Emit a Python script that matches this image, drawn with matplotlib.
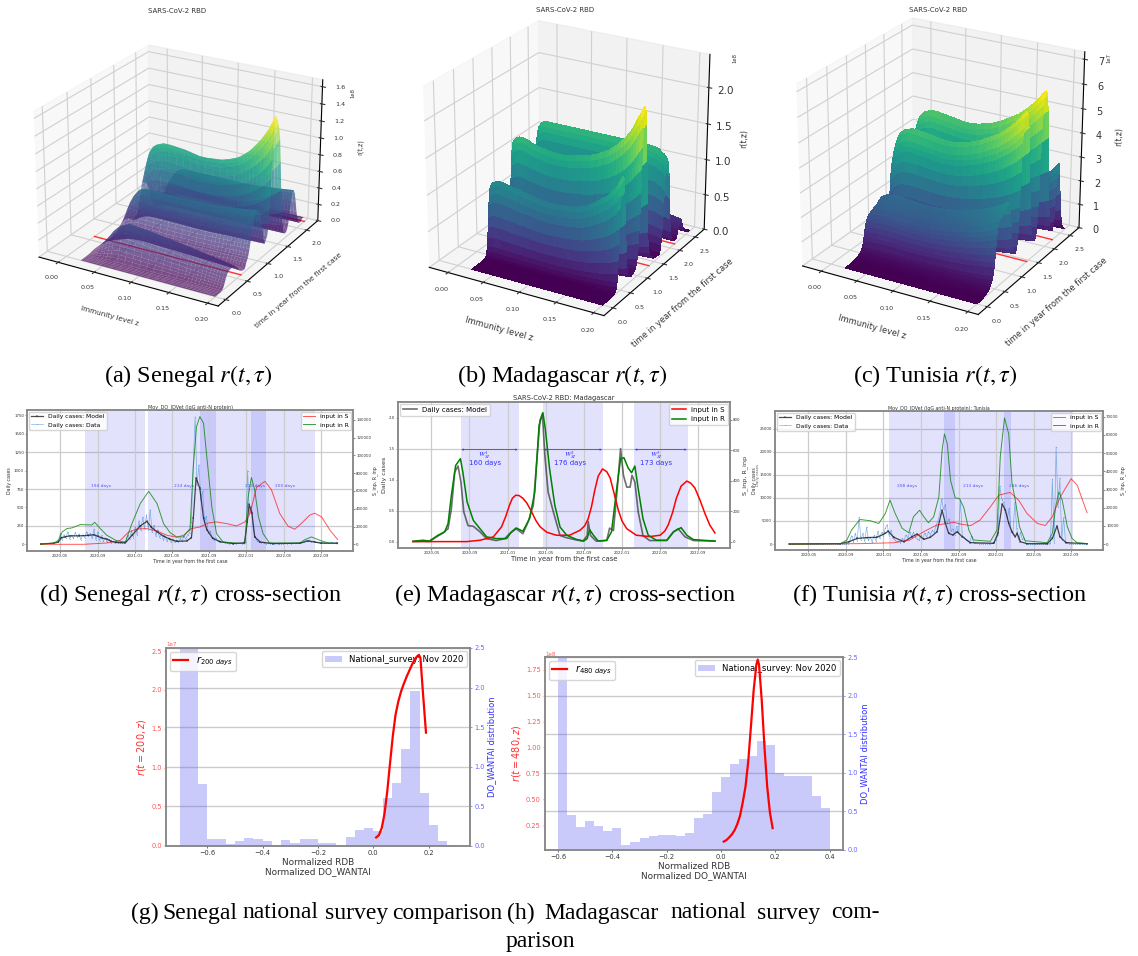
import numpy as np
import matplotlib
matplotlib.use("Agg")
import matplotlib.pyplot as plt

W, H = 1138, 956
plt.rcParams['mathtext.fontset'] = 'stix'

# ---------- 3D surfaces: immunity grid, z-profiles and per-time ridge heights ----------
z_grid = [.02,.022,.024,.026,.028,.03,.035,.04,.045,.05,.06,.07,.08,.09,.10,.11,.12,.13,.14,.15,.155,.16,.165,.17,.175,.18,.184,.188,.192,.196,.2]
a_fall = [.05,.08,.12,.17,.22,.28,.42,.58,.75,.88,1,.98,.95,.92,.88,.85,.82,.78,.74,.7,.68,.66,.64,.62,.6,.58,.56,.54,.52,.5,.48]
a_flat = [.2,.28,.37,.47,.57,.66,.82,.93,.98,1,1,1,1,1,1,1,1,1,1.01,1.02,1.03,1.04,1.05,1.06,1.07,1.08,1.09,1.1,1.11,1.12,1.13]
a_main = [.45,.55,.65,.74,.82,.88,.96,1,1.02,1.04,1.04,1.03,1.02,1,.98,.98,.99,1,1.03,1.07,1.1,1.14,1.18,1.23,1.29,1.35,1.41,1.47,1.54,1.63,1.72]
b_main = [.92,.95,.97,.98,.99,1,1,.99,.98,.97,.95,.93,.91,.89,.88,.88,.89,.9,.92,.95,.98,1.01,1.04,1.08,1.12,1.16,1.2,1.25,1.3,1.37,1.45]
b_boost = [1.2,1.24,1.26,1.28,1.29,1.3,1.3,1.29,1.27,1.25,1.23,1.21,1.2,1.2,1.21,1.23,1.25,1.28,1.32,1.37,1.4,1.44,1.48,1.53,1.58,1.64,1.7,1.77,1.85,1.93,2.0]
b_flat = [1.06,1.09,1.12,1.13,1.14,1.15,1.15,1.15,1.15,1.15,1.15,1.15,1.15,1.15,1.15,1.15,1.15,1.15,1.15,1.15,1.15,1.15,1.15,1.15,1.15,1.14,1.14,1.13,1.1,1.08,1.03]
c_main = [.75,.82,.87,.91,.94,.96,.99,1,1.01,1.01,1,.99,.98,.97,.97,.98,1,1.02,1.05,1.09,1.11,1.13,1.15,1.18,1.21,1.24,1.27,1.3,1.33,1.37,1.4]

a_h = [0,0,.001,.002,.003,.01,.04,.12,.22,.3,.34,.36,.36,.36,.35,.34,.31,.26,.2,.14,.1,.08,.07,.07,.08,.11,.16,.24,.33,.42,.49,.53,.54,.53,.5,.46,.38,.28,.18,.12,.1,.12,.2,.38,.62,.82,.9,.88,.84,.8,.72,.56,.36,.2,.11,.07,.05,.05,.07,.13,.25,.37,.43,.44,.4,.3,.18,.09,.05,.03,.03,.05,.06,.04]
a_tx = [.195,.225,.255,.765,.795,.825,.855,1.275,1.305,1.335,1.365,1.785,1.815,1.845]
a_hx = [.08,.17,.26,.13,.2,.28,.37,.28,.5,.72,.87,.19,.31,.4]
a_breaks = [(.7,a_fall),(1.2,a_flat),(1.65,a_main),(9,a_flat)]
b_h = [0,0,.001,.001,.002,.002,.003,.003,.004,.005,.006,.01,.02,.06,.18,.45,.78,1.0,1.05,1.02,.9,.6,.32,.16,.09,.06,.05,.04,.04,.04,.05,.06,.08,.12,.22,.42,.72,1.0,1.12,1.1,1.0,.75,.45,.25,.14,.09,.06,.05,.04,.03,.03,.025,.02,.02,.025,.03,.06,.15,.35,.7,1.05,1.2,1.25,1.2,1.02,.7,.4,.22,.12,.08,.06,.05,.05,.06,.1,.16,.23,.27,.27,.22,.15,.1,.07,.05,.04,.03,.02,.015,.01]
b_tx = [.405,.435,.465,.495,1.035,1.065,1.095,1.125,1.725,1.755,1.785,1.815,2.265]
b_hx = [.11,.3,.6,.9,.31,.56,.86,1.07,.24,.52,.87,1.14,.2]
b_breaks = [(.82,b_main),(1.63,b_boost),(9,b_flat)]
c_h = [0,0,0,.005,.01,.015,.02,.03,.04,.06,.08,.12,.16,.22,.3,.42,.65,1.0,1.4,1.7,1.85,1.9,1.92,1.95,2.0,2.02,2.05,2.1,2.15,2.2,2.1,1.85,1.45,1.05,.75,.6,.55,.55,.7,1.1,1.8,2.8,3.6,4.0,4.3,4.4,4.4,4.3,3.9,3.2,2.3,1.5,1.0,.7,.5,.45,.45,.5,.8,1.4,2.3,3.2,4.0,4.45,4.6,4.6,4.45,4.0,3.2,2.2,1.3,.8,.5,.35,.3,.3,.5,.95,1.5,1.95,2.1,1.8,1.2,.7,.4,.2,.1,.05,.02]
c_tx = [.495,.525,.555,1.185,1.215,1.245,1.275,1.755,1.785,1.815,1.845,1.875,2.325,2.355]
c_hx = [.8,1.2,1.55,1.4,2.3,3.2,3.8,1.1,1.85,2.75,3.6,4.25,1.2,1.75]
c_breaks = [(2.27,c_main),(9,b_main)]
t_step = .03

# ---------- time series, x in months since 2020-01 ----------
month_ticks = [4,8,12,16,20,24,28,32]
month_labels = ['2020-05','2020-09','2021-01','2021-05','2021-09','2022-01','2022-05','2022-09']

d_model_t = [1.9,3.3,3.8,4.1,4.5,5,6,7,7.6,8,8.5,9,9.5,10,11,11.7,12.6,13.3,13.8,14.4,15.1,15.8,16.5,17.6,18.1,18.3,18.6,19,19.4,19.75,20.4,21.2,22.6,23.8,24.1,24.3,24.6,24.9,25.5,26.9,29.8,30.6,31.4,32,33.8]
d_model_v = [5,15,30,90,100,115,115,120,130,110,85,70,40,25,20,120,250,310,230,170,110,70,40,45,90,350,900,760,350,200,80,35,10,20,300,540,430,100,30,10,15,45,30,15,15]
d_data_v = [40,150,60,130,90,170,70,120,80,160,100,140,60,130,90,170,110,150,80,210,
            60,170,50,120,40,90,30,70,20,40,15,30,15,20,15,
            30,40,120,70,180,90,240,130,320,190,370,210,400,200,470,160,260,110,200,90,
            140,60,110,40,90,30,70,25,60,30,80,40,110,70,130,150,
            300,1100,1730,800,1080,600,720,300,380,150,180,90,
            60,90,40,50,25,30,15,20,10,12,8,12,10,15,12,10,20,30,
            1000,420,520,200,110,50,30,
            20,25,15,10,12,8,10,8,12,8,10,8,10,12,10,12,10,15,12,18,15,20,25,
            35,55,40,60,35,45,30,25,30,20,25,18,20,22,18,25,15,20,15]
d_R_t = [1.9,3.3,3.8,4.2,4.7,5.25,6.15,7.4,7.7,8.3,9,10.1,11,11.7,12.6,13.5,14.4,15.1,15.8,16.5,17.2,17.95,18.3,18.65,19,19.4,19.75,20.3,20.8,21.5,23.85,24.2,24.55,24.9,25.3,25.8,26.5,29.75,30.3,31,31.9,32.8,33.8]
d_R_v = [0,1500,4500,13900,17700,18500,22200,21800,24800,17700,10200,3800,2600,23300,45900,59600,45900,23300,13200,8300,8300,17700,87300,132500,143800,136300,98700,41300,12000,2600,700,53300,75200,61400,31200,12000,1500,1500,5300,8300,4500,1500,700]
d_S_t = [1.9,6.5,9,10.45,11.35,12.25,13.3,14.4,15.45,16.5,17.25,18.1,19,19.9,20.8,21.9,22.95,23.85,24.4,25.1,26,26.7,27.6,28.5,29.2,29.9,30.8,31.35,32.1,33,33.8]
d_S_v = [0,0,1500,4500,13900,17300,17700,15000,10200,8000,10200,17700,19500,24000,25200,23300,20700,25200,34600,64000,70900,61400,34600,20300,17000,23300,32700,35000,30800,15800,5600]
d_spans = [(6.61,13.01),(13.48,20.63),(19.02,26.0),(24.5,31.25)]
d_span_labels = [(8.4,'194 days'),(17.3,'214 days'),(24.9,'210 days'),(28.2,'200 days')]

e_model_t = [2.07,3.1,3.8,4.5,5.2,5.75,6.1,6.45,6.8,7.1,7.4,7.85,8.4,9.1,9.8,10.8,11.7,12.2,12.9,13.6,14.15,14.7,15.05,15.4,15.65,15.9,16.25,16.8,17.5,18.2,19.2,19.9,20.35,20.45,20.7,21.3,22.4,22.7,23.1,23.5,23.85,24.15,24.5,24.85,25.05,25.35,25.7,26.2,26.9,28.7,29.4,29.9,30.6,31.5,33.75]
e_model_v = [.005,.01,.005,.075,.14,.21,.53,1.12,1.22,.96,.48,.26,.25,.16,.05,.02,.05,.13,.21,.13,.32,.59,1.29,1.96,2.06,1.4,.8,.48,.1,.065,.03,.01,.1,.33,.1,.01,.02,.22,.18,.85,1.5,1.07,.88,.88,1.07,.96,.48,.1,.02,.02,.16,.21,.08,.02,.01]
e_R_t = [2.07,3.1,3.8,4.7,5.4,5.75,6.1,6.55,7.05,7.3,7.75,8.4,9.1,9.8,10.8,11.9,12.4,12.9,13.6,14.3,14.85,15.3,15.7,15.95,16.4,16.95,17.5,18.2,19.2,20,20.35,20.6,21,21.5,22.4,22.9,23.4,23.85,24.2,24.65,25,25.35,25.7,26.2,26.75,27.6,28.7,29.4,30.2,30.8,31.5,33.75]
e_R_v = [2,9,4,42,64,118,304,501,545,458,261,140,85,31,20,20,64,90,68,151,326,764,848,742,480,239,96,42,15,4,20,79,42,4,9,64,326,545,552,484,453,497,348,151,42,9,9,64,92,42,13,4]
e_S_t = [2.07,7.7,9.1,10.5,11.35,11.8,12.2,12.5,12.85,13.2,13.6,14,14.4,14.7,15,15.4,16.1,17.1,18.5,19.6,20.1,20.45,20.8,21.15,21.5,21.95,22.4,22.75,23.2,23.6,24,24.5,25.5,26.9,28,28.5,28.85,29.3,29.7,30.2,30.8,31.2,31.65,32.2,32.7,33.2,33.75]
e_S_v = [0,0,9,31,96,165,240,285,305,303,285,255,210,172,135,98,62,42,42,75,105,150,230,340,430,478,460,420,310,210,135,85,42,33,42,70,110,190,285,365,398,385,352,270,185,110,57]
e_spans = [(7.08,13.17),(15.73,22.0),(25.25,30.96)]
e_arrows = [(7.15,13.05),(15.83,21.9),(25.35,30.8)]
e_arrow_y = 1.484
e_labels = [(9.6,'$W_{SI}^{1}$','160 days'),(18.6,'$W_{SI}^{2}$','176 days'),(27.6,'$W_{SI}^{3}$','173 days')]

f_model_t = [1.97,7.4,8.3,9.2,10.25,11.3,12.2,12.5,13.1,14.2,15.05,15.6,16.3,17,17.7,18.25,18.6,18.95,19.4,19.85,20.4,21.25,23.75,24.2,24.65,25,25.35,25.7,26.05,26.25,26.6,27.3,29.45,30,30.5,30.8,31.45,33.7]
f_model_v = [0,70,500,1200,1400,1450,2300,2800,1450,500,1600,2150,1000,1450,2650,7300,4500,2300,1950,2650,1600,300,150,2300,8650,7350,4450,2650,1600,2300,500,70,70,1200,3900,1600,300,70]
f_data_v = [0]*31 + [100,600,1800,400,2300,700,5800,900,2300,500,3700,800,1500,400,1900,600,2800,1200,2500,1800,3500,
            4200,1800,3000,1300,900,500,700,300,1200,800,2000,1300,2600,1600,2500,
            1500,1100,800,1900,1200,2400,1500,2700,2000,3000,2500,4000,5000,6500,9800,
            7500,8600,4500,5500,2800,3300,2000,3800,2200,9500,1800,1500,
            900,600,400,1800,300,200,150,100,100,80,100,60,80,100,200,400,800,
            2000,12500,9800,9000,7000,5500,7800,3000,2000,9000,3500,800,2500,1000,1200,
            100,50,30,20,20,10,10,10,20,10,20,30,50,
            200,14000,300,21000,8000,14300,900,5800,600,300,100,
            50,30,20,10,10,10,10,10,10]
f_R_t = [1.97,7.4,8.1,8.6,9.5,10.6,11.5,12.2,12.7,13.25,14,14.7,15.2,15.85,16.3,16.8,17.35,17.9,18.25,18.5,18.8,19.15,19.65,20.1,20.55,21.1,21.6,23.4,24.1,24.45,24.9,25.35,25.7,26.05,26.5,27.1,29.45,30,30.35,30.7,31.05,31.6,32.1,32.65,33.7]
f_R_v = [0,200,2200,7700,13500,12800,11300,16800,24200,16800,8600,6200,15000,18600,15000,11700,15000,25800,51400,60600,55100,35000,25400,25000,20300,7700,2200,1500,7700,47900,69400,60600,33500,24200,9500,1800,700,5900,20500,28700,24200,9500,3100,700,200]
f_S_t = [1.97,9.5,13.1,14.8,16.3,17.7,18.8,19.5,20.2,21.3,22.3,23.4,24.3,25.5,26.4,27.3,28.4,29.25,30,30.85,32,32.65,33.7]
f_S_v = [0,200,700,2200,6800,10500,11300,11900,11000,10100,13200,20500,26900,28400,24200,16800,11300,10200,15000,26000,35900,32400,17200]
f_spans = [(12.54,19.48),(18.5,25.5),(24.9,32.1)]
f_span_labels = [(14.5,'208 days'),(21.55,'213 days'),(26.5,'216 days')]

# ---------- survey histograms ----------
g_bins = [-0.7 + i/30 for i in range(31)]
g_hist = [5,5,.78,.09,.09,.03,.06,.105,.085,.065,.01,.07,.035,.09,.09,.035,.035,0,.11,.2,.23,.19,.6,.8,1.22,1.96,.67,.27,.06,.01]
g_r_z = [.01,.02,.03,.04,.05,.06,.07,.08,.09,.10,.11,.12,.13,.14,.15,.16,.165,.17,.18,.19]
g_r_v = [.1,.13,.22,.4,.69,1.05,1.4,1.68,1.85,1.98,2.08,2.17,2.25,2.33,2.4,2.44,2.45,2.41,1.92,1.45]
h_bins = [-0.6 + i/30 for i in range(31)]
h_hist = [5,.45,.30,.38,.31,.25,.28,.07,.10,.15,.18,.2,.2,.18,.22,.41,.47,.745,.94,1.11,1.185,1.215,1.41,1.36,1.0,.955,.955,.955,.70,.54]
h_r_z = [.01,.02,.03,.04,.05,.06,.07,.08,.09,.10,.11,.12,.13,.135,.14,.15,.16,.17,.18,.19]
h_r_v = [.09,.105,.13,.16,.2,.26,.34,.47,.62,.86,1.2,1.55,1.8,1.85,1.8,1.45,1.0,.62,.37,.22]

fig = plt.figure(figsize=(W/100, H/100), dpi=100, facecolor='white')

def rect(x0, y0, x1, y1):
    return [x0/W, 1-y1/H, (x1-x0)/W, (y1-y0)/H]

def surface(box, hs, tx, hx, breaks, scale, zlim, zticks, ylim, yticks, title, aspect, alpha, red_t, tick_fs, z_fs, lab_fs, offset):
    ax = fig.add_axes(rect(*box), projection='3d')
    ts = np.concatenate([t_step*np.arange(len(hs)), tx])
    vals = np.concatenate([hs, hx])
    order = np.argsort(ts)
    ts, vals = ts[order], vals[order]
    rows = []
    for t, h in zip(ts, vals):
        prof = next(p for limit, p in breaks if t < limit)
        rows.append(np.array(prof)*h*scale)
    R = np.array(rows)
    Z, T = np.meshgrid(z_grid, ts)
    ax.plot_surface(Z, T, R, cmap='viridis', linewidth=0, edgecolor='none', antialiased=alpha < 1, rcount=300, ccount=300, alpha=alpha)
    for t in red_t:
        ax.plot([0, .2], [t, t], [0, 0], color='red', lw=1, alpha=.8)
    ax.view_init(elev=24, azim=-60)
    ax.set_xlim(-.027, .2135)
    ax.set_ylim(*ylim)
    ax.set_zlim(0, zlim)
    ax.set_xticks([0,.05,.1,.15,.2])
    ax.set_xticklabels(['0.00','0.05','0.10','0.15','0.20'])
    ax.set_yticks(yticks)
    ax.set_zticks(zticks)
    ax.tick_params(axis='x', labelsize=tick_fs, pad=-1, colors='#333333')
    ax.tick_params(axis='y', labelsize=tick_fs, pad=-1, colors='#333333')
    ax.tick_params(axis='z', labelsize=z_fs, pad=0, colors='#333333')
    ax.set_xlabel('Immunity level z', fontsize=lab_fs, labelpad=-3, color='#333333')
    ax.set_ylabel('time in year from the first case', fontsize=lab_fs, labelpad=-2, color='#333333')
    ax.set_zlabel('r(t,z)', fontsize=lab_fs-.5, labelpad=-3, color='#333333')
    ax.zaxis.get_offset_text().set_visible(False)
    ax.set_box_aspect(aspect)
    for axis in (ax.xaxis, ax.yaxis, ax.zaxis):
        axis._axinfo['grid']['color'] = '#d0d0d0'
        axis._axinfo['grid']['linewidth'] = .8
    fig.text(title[0]/W, 1-title[1]/H, 'SARS-CoV-2 RBD', fontsize=5, color='#333333', ha='center', va='center')
    fig.text(offset[0]/W, 1-offset[1]/H, offset[2], fontsize=3.8, color='#333333', rotation=90, ha='center', va='center')
    return ax

surface((14.5,10,339.5,335), a_h, a_tx, a_hx, a_breaks, 1e8, 1.68e8, [0,.2e8,.4e8,.6e8,.8e8,1e8,1.2e8,1.4e8,1.6e8], (-.17,2.3), [0,.5,1,1.5,2],
        (177,11), (3.9,4.1,3), .7, [.6,2.2], 4.6, 4.6, 5.2, (353,93,'1e8'))
surface((394,-5.5,736,336.5), b_h, b_tx, b_hx, b_breaks, 1e8, 2.45e8, [0,.5e8,1e8,1.5e8,2e8], (-.25,2.8), [0,.5,1,1.5,2,2.5],
        (565,10), (3.85,4.15,3.75), 1, [1.35,2.15], 4.6, 7.5, 6, (735,58,'1e8'))
surface((767,-8.5,1111,335.5), c_h, c_tx, c_hx, c_breaks, 1e7, 7.3e7, [0,1e7,2e7,3e7,4e7,5e7,6e7,7e7], (-.25,2.8), [0,.5,1,1.5,2,2.5],
        (938,10), (3.85,4.15,3.75), 1, [1.45,2.25], 4.6, 7, 6, (1109,58,'1e7'))

def series_axes(box, xlim, ylim_l, ylim_r, yt_l, yt_r, grid_y, title, t_fs, lab_fs, ylab_r, ylab_fs):
    ax = fig.add_axes(rect(*box))
    ax2 = ax.twinx()
    ax.set_xlim(*xlim); ax.set_ylim(*ylim_l); ax2.set_ylim(*ylim_r)
    ax.set_xticks(month_ticks); ax.set_xticklabels(month_labels)
    ax.set_yticks(yt_l); ax2.set_yticks(yt_r)
    ax.grid(axis='x', color='#cccccc', lw=.9)
    for g in grid_y:
        ax.axhline(g, color='#cccccc', lw=.9, zorder=0)
    for a in (ax, ax2):
        a.tick_params(labelsize=2.8, length=1.2, width=.4, pad=1, colors='#333333')
        for s in a.spines.values():
            s.set_color('#888888'); s.set_linewidth(1.1)
    ax.set_title(title, fontsize=t_fs, pad=1.5, color='#333333')
    ax.set_xlabel('Time in year from the first case', fontsize=lab_fs, labelpad=1, color='#333333')
    ax.set_ylabel('Daily cases', fontsize=ylab_fs, labelpad=1.5, color='#333333')
    ax2.set_ylabel(ylab_r, fontsize=ylab_fs, labelpad=1, color='#333333')
    return ax, ax2

SPAN = dict(facecolor='#4040f0', alpha=.15, edgecolor='#4040f0', lw=.4)
DATA = dict(color='#3f8fd8', lw=.5, marker='.', ms=1.5, alpha=.65, mew=0)
MODEL = dict(color='#111111', lw=.9, marker='+', ms=1.2, mew=.3, alpha=.75)

# panel d
ax, ax2 = series_axes((27,410,353,551), (.42,35.47), (-91,1822), (-7520,151150),
                      [0,250,500,750,1000,1250,1500,1750], [0,20000,40000,60000,80000,100000,120000,140000],
                      [250,750,1250], 'Moy_DO_IDVet (IgG anti-N protein)', 3.5, 3.4, 'S_inp, R_inp', 3.4)
for s in d_spans: ax.axvspan(*s, **SPAN)
for x, lab in d_span_labels: ax.text(x, 789, lab, fontsize=3.2, color='#3030ff', ha='center', va='center', alpha=.8)
ax.plot(np.linspace(3.8, 33.8, len(d_data_v)), d_data_v, zorder=3, **DATA)
ax.plot(d_model_t, d_model_v, zorder=4, **MODEL)
ax2.plot(d_S_t, d_S_v, color='red', lw=.7, alpha=.65, label='input in S')
ax2.plot(d_R_t, d_R_v, color='green', lw=.7, alpha=.75, label='input in R')
h1 = [plt.Line2D([], [], **MODEL), plt.Line2D([], [], **DATA)]
ax.legend(h1, ['Daily cases: Model','Daily cases: Data'], loc='upper left', fontsize=4.3, borderaxespad=.3)
ax2.legend(loc='upper right', fontsize=4.3, borderaxespad=.3)

# panel e
ax, ax2 = series_axes((398,402,730,548), (.5,35.33), (-.10,2.25), (-42,918),
                      [0,.5,1,1.5,2], [0,200,400,600,800], [.5,1.5],
                      'SARS-CoV-2 RBD: Madagascar', 4.9, 4.9, 'S_inp, R_inp', 4.6)
for s in e_spans: ax.axvspan(*s, facecolor='#4040f0', alpha=.15, lw=0)
ax.plot(e_model_t, e_model_v, color='#222222', lw=1.2, alpha=.65)
ax2.plot(e_S_t, e_S_v, color='red', lw=1.1, label='input in S')
ax2.plot(e_R_t, e_R_v, color='green', lw=1.1, label='input in R')
for a0, a1 in e_arrows:
    ax.annotate('', xy=(a1, e_arrow_y), xytext=(a0, e_arrow_y), arrowprops=dict(arrowstyle='<->', color='#3030ff', lw=.5, mutation_scale=2.5, shrinkA=0, shrinkB=0))
for x, wl, dl in e_labels:
    ax.text(x, 1.40, wl, fontsize=5.4, color='#3030ff', ha='center', va='center')
    ax.text(x, 1.27, dl, fontsize=5, color='#3030ff', ha='center', va='center')
ax.legend([plt.Line2D([], [], color='#222222', lw=1.2, alpha=.65)], ['Daily cases: Model'], loc='upper left', fontsize=5, borderaxespad=.3)
ax2.legend(loc='upper right', fontsize=5, borderaxespad=.3)
fig.text(757.5/W, 1-475/H, 'Daily cases', fontsize=2.8, rotation=90, color='#555555', ha='center', va='center')

# panel f
ax, ax2 = series_axes((775,411,1103,550), (.44,35.4), (-1296,28800), (-3294,73200),
                      [0,5000,10000,15000,20000,25000], [0,10000,20000,30000,40000,50000,60000,70000],
                      [5000,10000,15000,20000,25000], 'Moy_DO_IDVet (IgG anti-N protein): Tunisia', 3.45, 3.4, 'S_inp, R_inp', 3.4)
for s in f_spans: ax.axvspan(*s, **SPAN)
for x, lab in f_span_labels: ax.text(x, 12500, lab, fontsize=3.2, color='#3030ff', ha='center', va='center', alpha=.8)
ax.plot(2 + .2*np.arange(len(f_data_v)), f_data_v, zorder=3, **DATA)
ax.plot(f_model_t, f_model_v, zorder=4, **MODEL)
ax2.plot(f_S_t, f_S_v, color='red', lw=.7, alpha=.65, label='input in S')
ax2.plot(f_R_t, f_R_v, color='green', lw=.7, alpha=.75, label='input in R')
ax.legend([plt.Line2D([], [], **MODEL), plt.Line2D([], [], **DATA)], ['Daily cases: Model','Daily cases: Data'], loc='upper left', fontsize=4.3, borderaxespad=.3)
ax2.legend(loc='upper right', fontsize=4.3, borderaxespad=.3)

# panels g, h
def survey(box, xlim, ylim_l, yt_l, bins, hist, rz, rv, ylab, leg, xt):
    ax = fig.add_axes(rect(*box))
    ax2 = ax.twinx()
    ax2.hist(bins[:-1], bins=bins, weights=hist, color='#6060f0', alpha=.33, label='National_survey: Nov 2020')
    ax2.set_ylim(0, 2.5)
    ax2.set_yticks([0,.5,1,1.5,2,2.5])
    ax2.grid(axis='y', color='#cccccc', lw=1)
    ax2.set_axisbelow(True)
    ax.set_zorder(ax2.get_zorder()+1); ax.patch.set_visible(False)
    ax.plot(rz, rv, color='red', lw=1.6, label=leg)
    ax.set_xlim(*xlim); ax.set_ylim(*ylim_l)
    ax.set_xticks(xt)
    ax.set_yticks(yt_l)
    ax.tick_params(axis='x', labelsize=4.8, length=1.5, width=.5, pad=1.5, colors='#333333')
    ax.tick_params(axis='y', labelsize=4.8, length=1.5, width=.5, pad=1.5, colors='#ff5555')
    ax2.tick_params(axis='y', labelsize=4.8, length=1.5, width=.5, pad=1.5, colors='#6666ff')
    ax.set_xlabel('Normalized RDB\nNormalized DO_WANTAI', fontsize=6.4, labelpad=1, color='#333333', linespacing=1.1)
    ax.set_ylabel(ylab, fontsize=7, color='#ff3030', labelpad=2, math_fontfamily='dejavusans')
    ax2.set_ylabel('DO_WANTAI distribution', fontsize=6, color='#3030ff', labelpad=2)
    for a in (ax, ax2):
        for s in a.spines.values():
            s.set_color('#888888'); s.set_linewidth(1.1)
    lg = ax.legend(loc='upper left', fontsize=7, borderaxespad=.4, handlelength=1.6, borderpad=.3)
    for t in lg.get_texts():
        t.set_math_fontfamily('dejavusans')
    ax2.legend(loc='upper right', fontsize=6.1, borderaxespad=.4)

survey((166,648,470,846), (-.749,.349), (-.01,2.54), [0,.5,1,1.5,2,2.5], g_bins, g_hist, g_r_z, g_r_v,
       '$r(t=200,z)$', '$r_{200\\ days}$', [-.6,-.4,-.2,0,.2])
survey((545,657,843,850), (-.648,.449), (.0086,1.875), [.25,.5,.75,1,1.25,1.5,1.75], h_bins, h_hist, h_r_z, h_r_v,
       '$r(t=480,z)$', '$r_{480\\ days}$', [-.6,-.4,-.2,0,.2,.4])
fig.text(166/W, 1-645/H, '1e7', fontsize=4, color='#ff5555', ha='left', va='center')
fig.text(545/W, 1-654/H, '1e8', fontsize=4, color='#ff5555', ha='left', va='center')

# captions
SERIF = dict(fontfamily='Liberation Serif', color='black', va='center')
caps = [(188.5,376,'(a) Senegal $r(t,\\tau)$'),(562,376,'(b) Madagascar $r(t,\\tau)$'),(935,376,'(c) Tunisia $r(t,\\tau)$'),
        (191,595,'(d) Senegal $r(t,\\tau)$ cross-section'),(565,595,'(e) Madagascar $r(t,\\tau)$ cross-section'),(940,595,'(f) Tunisia $r(t,\\tau)$ cross-section')]
for x, y, s in caps:
    fig.text(x/W, 1-y/H, s, fontsize=17.5, ha='center', **SERIF)
caption_words = [(131,'(g)'),(162,'Senegal'),(242,'national'),(325,'survey'),(392,'comparison'),
                 (507,'(h)'),(544,'Madagascar'),(670,'national'),(757,'survey'),(831,'com-')]
for x, s in caption_words:
    fig.text(x/W, 1-913/H, s, fontsize=17, ha='left', **SERIF)
fig.text(540/W, 1-942/H, 'parison', fontsize=17, ha='center', **SERIF)

fig.savefig('out.png', dpi=100)
